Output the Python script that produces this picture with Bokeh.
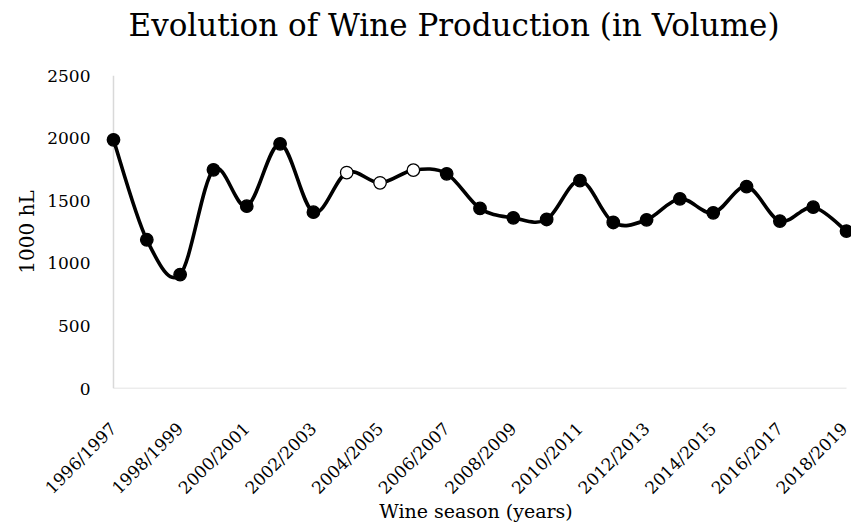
import numpy as np
from math import pi
from bokeh.plotting import figure
from bokeh.models import FixedTicker, Range1d, Title
from bokeh.embed import file_html
from bokeh.resources import INLINE

# ---- data ----
seasons = ["1996/1997", "1997/1998", "1998/1999", "1999/2000", "2000/2001",
           "2001/2002", "2002/2003", "2003/2004", "2004/2005", "2005/2006",
           "2006/2007", "2007/2008", "2008/2009", "2009/2010", "2010/2011",
           "2011/2012", "2012/2013", "2013/2014", "2014/2015", "2015/2016",
           "2016/2017", "2017/2018", "2018/2019"]
production = [1986, 1188, 910, 1747, 1456, 1954, 1408, 1725, 1643, 1744,
              1715, 1438, 1363, 1350, 1661, 1326, 1347, 1515, 1403, 1613,
              1337, 1448, 1257]
open_seasons = ["2003/2004", "2004/2005", "2005/2006"]
y_ticks = [0, 500, 1000, 1500, 2000, 2500]
x_tick_labels = seasons[::2]

title_text = "Evolution of Wine Production (in Volume)"
x_title = "Wine season (years)"
y_title = "1000 hL"

FONT = "DejaVu Serif"

n = len(seasons)
x = np.arange(n, dtype=float)
y = np.array(production, dtype=float)

# smoothed (Catmull-Rom style Bezier) control points, computed from the data
xp = np.concatenate([[x[0]], x, [x[-1]]])
yp = np.concatenate([[y[0]], y, [y[-1]]])
cx0 = xp[1:n] + (xp[2:n + 1] - xp[0:n - 1]) / 6.0
cy0 = yp[1:n] + (yp[2:n + 1] - yp[0:n - 1]) / 6.0
cx1 = xp[2:n + 1] - (xp[3:n + 2] - xp[1:n]) / 6.0
cy1 = yp[2:n + 1] - (yp[3:n + 2] - yp[1:n]) / 6.0

pad_l, pad_r = 0.39, 0.15
p = figure(width=851, height=530, output_backend="svg", toolbar_location=None,
           x_range=Range1d(x[0] - pad_l, x[-1] + pad_r),
           y_range=Range1d(y_ticks[0], y_ticks[-1]),
           min_border_left=100, min_border_right=0, min_border_top=75,
           min_border_bottom=142)
p.outline_line_color = None
p.xgrid.grid_line_color = None
p.ygrid.grid_line_color = None
p.background_fill_color = "white"

# title (main)
p.title.text = title_text
p.title.align = "left"
p.title.offset = 28
p.title.standoff = 8
p.title.text_font = FONT
p.title.text_font_size = "31px"
p.title.text_font_style = "normal"
p.title.text_color = "black"
# spacer between title and plot area
p.add_layout(Title(text=" ", text_font=FONT, text_font_size="23px", standoff=0), "above")

# axes lines (Excel style light grey)
p.line([x[0], x[0]], [y_ticks[0], y_ticks[-1]], line_color="#d9d9d9", line_width=1.5)
p.line([x[0], x[-1]], [y_ticks[0], y_ticks[0]], line_color="#d9d9d9", line_width=1.5)

# smoothed series line
p.bezier(x0=x[:-1], y0=y[:-1], x1=x[1:], y1=y[1:], cx0=cx0, cy0=cy0,
         cx1=cx1, cy1=cy1, line_color="black", line_width=3.6, line_cap="round")

fills = ["white" if s in open_seasons else "black" for s in seasons]
p.scatter(x, y, size=12.5, fill_color=fills, line_color="black", line_width=1.3)

# y axis
ya = p.yaxis[0]
ya.ticker = FixedTicker(ticks=y_ticks)
ya.axis_line_color = None
ya.major_tick_line_color = None
ya.minor_tick_line_color = None
ya.major_tick_out = 0
ya.major_tick_in = 0
ya.major_label_standoff = 10
ya.major_label_text_font = FONT
ya.major_label_text_font_size = "17px"
ya.major_label_text_color = "black"
ya.axis_label = y_title
ya.axis_label_standoff = 5
ya.axis_label_text_font = FONT
ya.axis_label_text_font_size = "20px"
ya.axis_label_text_font_style = "normal"
ya.axis_label_text_color = "black"

# x axis
xa = p.xaxis[0]
xa.ticker = FixedTicker(ticks=[seasons.index(s) for s in x_tick_labels])
xa.major_label_overrides = {seasons.index(s): s for s in x_tick_labels}
xa.axis_line_color = None
xa.major_tick_line_color = None
xa.minor_tick_line_color = None
xa.major_tick_out = 0
xa.major_tick_in = 0
xa.major_label_orientation = pi / 4
xa.major_label_standoff = 37
xa.major_label_text_font = FONT
xa.major_label_text_font_size = "17px"
xa.major_label_text_color = "black"
xa.axis_label = x_title
xa.axis_label_standoff = -8
xa.axis_label_text_font = FONT
xa.axis_label_text_font_size = "19px"
xa.axis_label_text_font_style = "normal"
xa.axis_label_text_color = "black"

open("out.html", "w").write(file_html(p, INLINE))
